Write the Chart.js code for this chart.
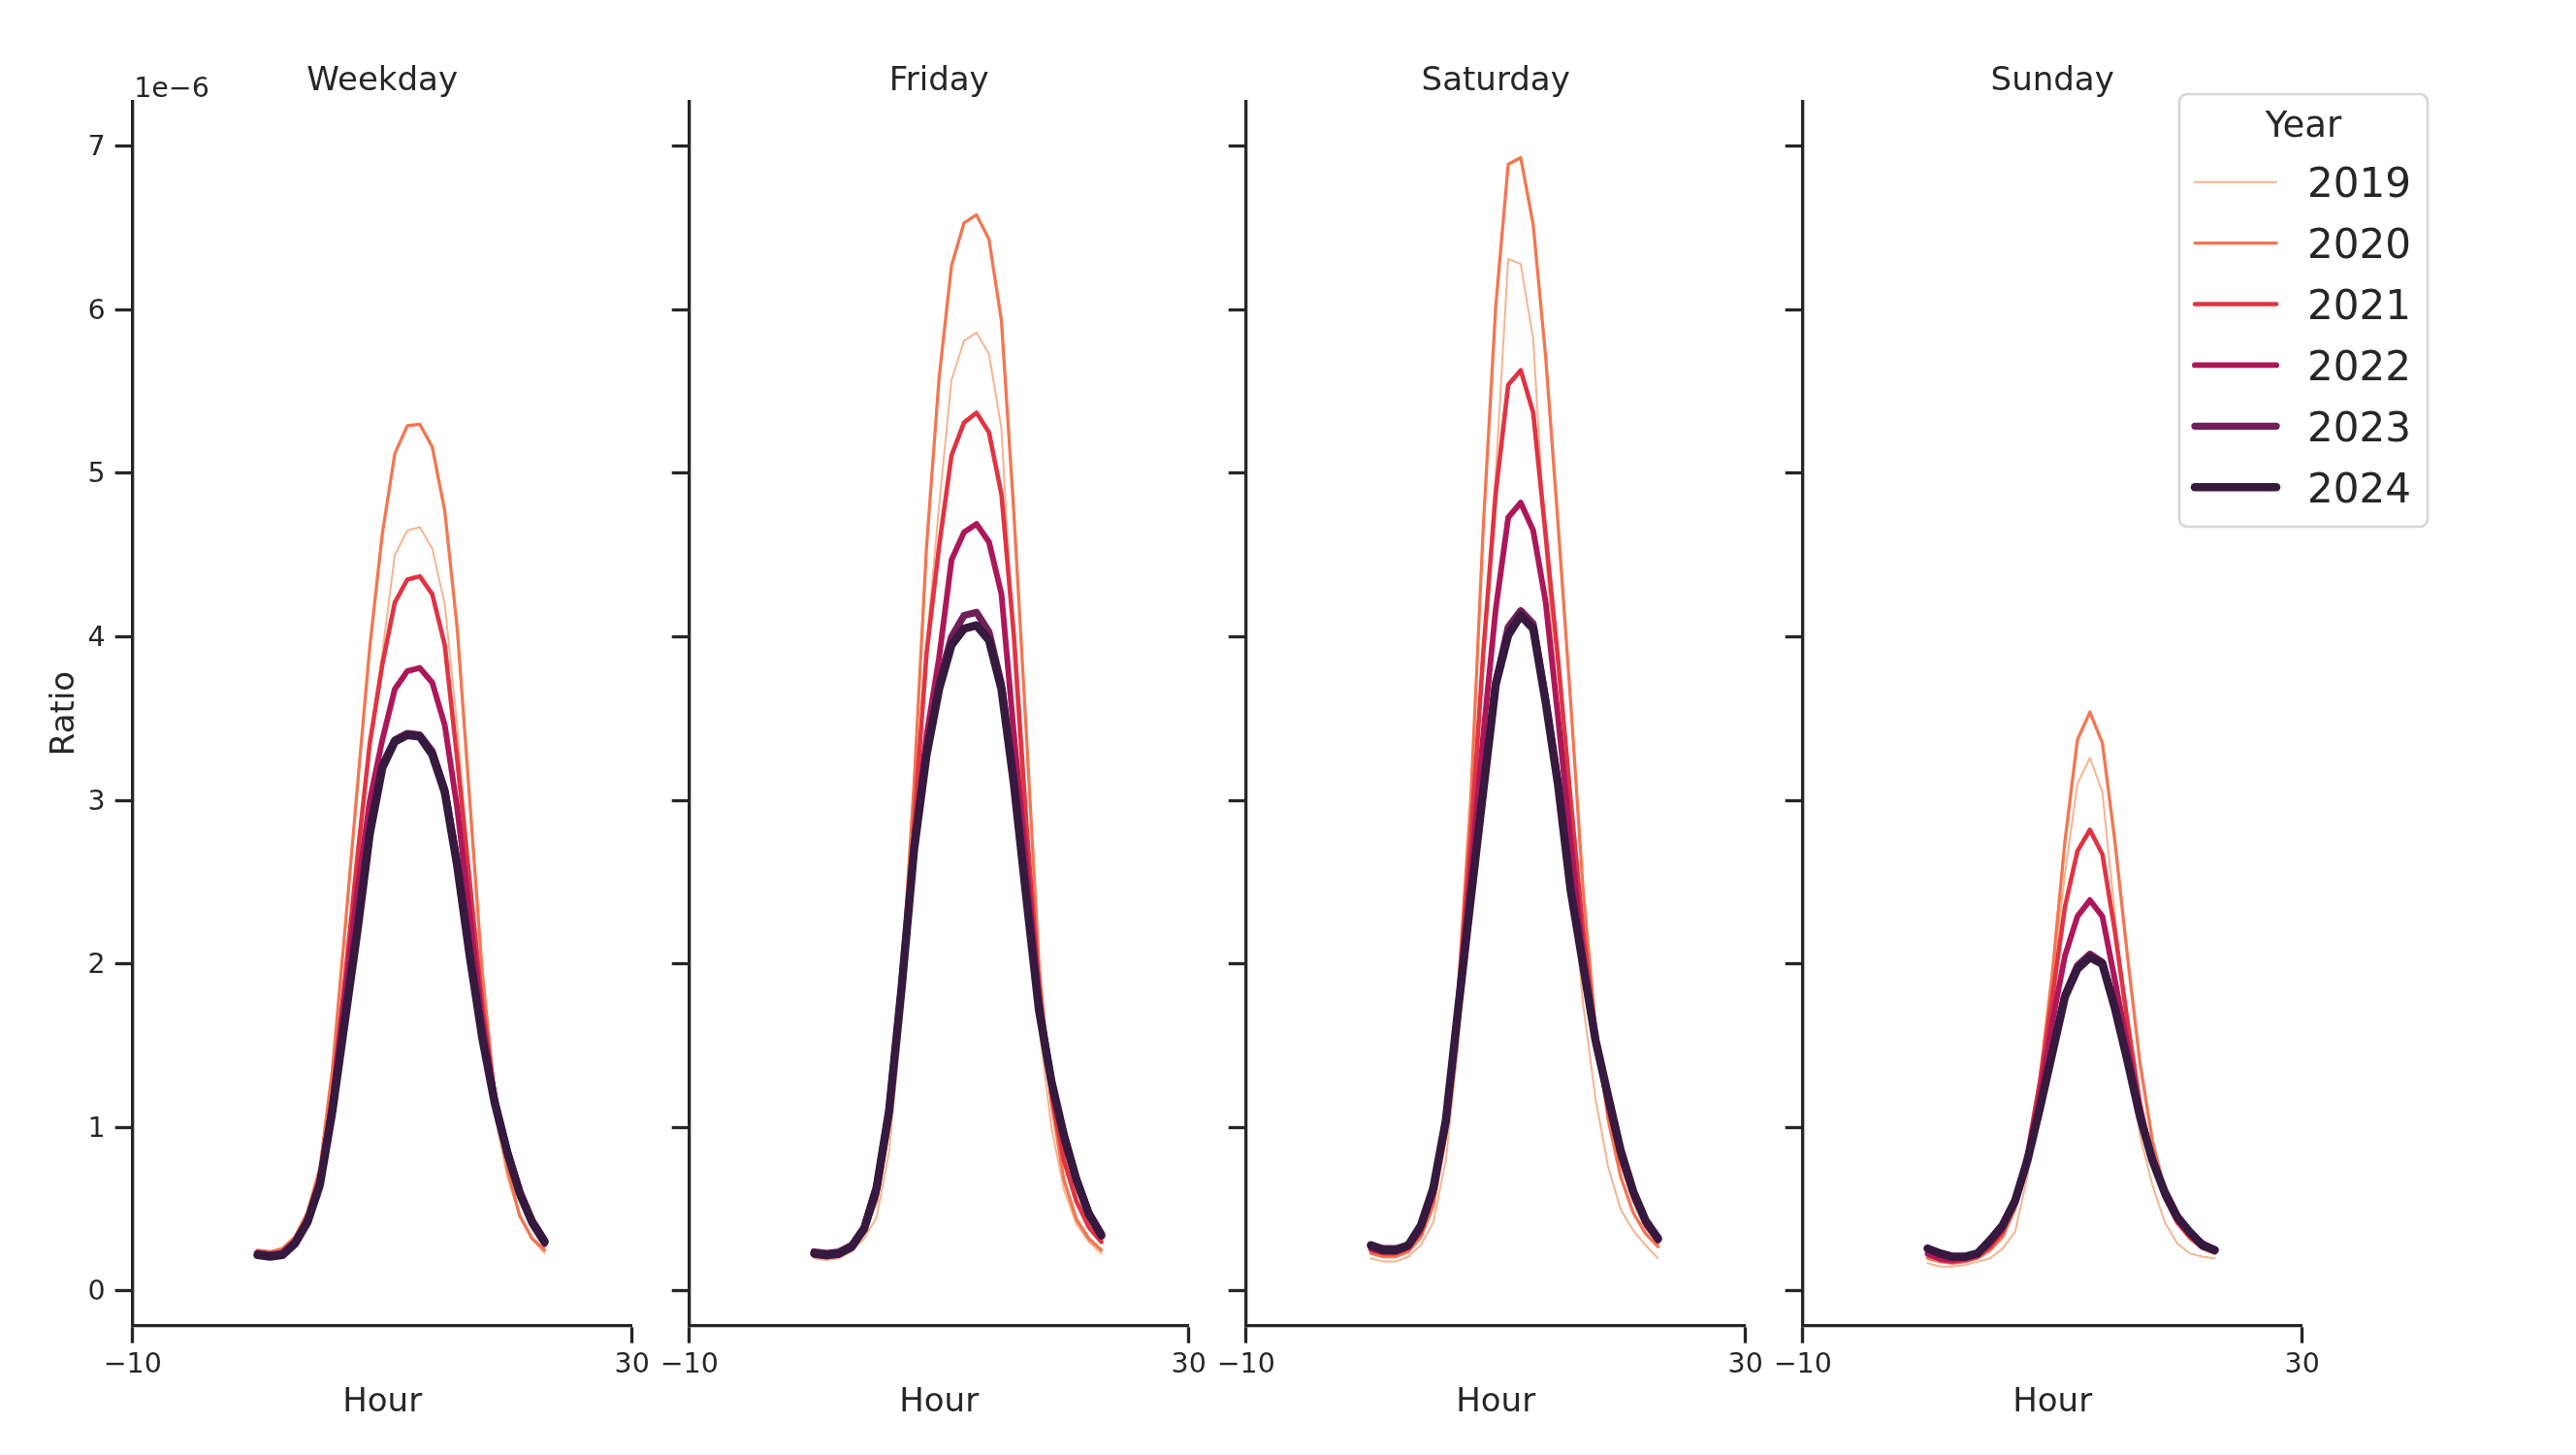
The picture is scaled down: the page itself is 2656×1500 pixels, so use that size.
<!DOCTYPE html>
<html>
<head>
<meta charset="utf-8">
<title>Ratio by hour</title>
<script src="https://cdn.jsdelivr.net/npm/chart.js@4.4.1/dist/chart.umd.min.js"></script>
<style>
    body { margin: 0; background: #ffffff; }
    #wrap { position: relative; width: 2656px; height: 1500px; }
    #wrap canvas { position: absolute; left: 0; top: 0; }
</style>
</head>
<body>
<div id="wrap">
    <canvas id="panel0" width="2656" height="1500"></canvas>
    <canvas id="panel1" width="2656" height="1500"></canvas>
    <canvas id="panel2" width="2656" height="1500"></canvas>
    <canvas id="panel3" width="2656" height="1500"></canvas>
</div>
<script>
// Veriler (birim: 1e-6)
const hours = [0, 1, 2, 3, 4, 5, 6, 7, 8, 9, 10, 11, 12, 13, 14, 15, 16, 17, 18, 19, 20, 21, 22, 23];
const years = ['2019', '2020', '2021', '2022', '2023', '2024'];
const panelTitles = ['Weekday', 'Friday', 'Saturday', 'Sunday'];
const xTicks = [-10, 30];
const yTicks = [0, 1, 2, 3, 4, 5, 6, 7];

// her satır bir yıl: 2019 ... 2024
const weekdayRatios = [
    [0.24, 0.23, 0.24, 0.30, 0.40, 0.58, 1.02, 1.80, 2.70, 3.35, 3.90, 4.50, 4.65, 4.67, 4.54, 4.20, 3.45, 2.55, 1.70, 1.08, 0.70, 0.46, 0.32, 0.23],
    [0.25, 0.24, 0.26, 0.33, 0.48, 0.75, 1.35, 2.20, 3.08, 3.94, 4.63, 5.12, 5.29, 5.30, 5.16, 4.77, 4.05, 3.00, 1.95, 1.20, 0.75, 0.46, 0.32, 0.25],
    [0.23, 0.22, 0.24, 0.31, 0.45, 0.70, 1.20, 1.90, 2.65, 3.35, 3.83, 4.21, 4.35, 4.37, 4.26, 3.95, 3.25, 2.50, 1.75, 1.20, 0.83, 0.57, 0.40, 0.28],
    [0.22, 0.21, 0.23, 0.30, 0.44, 0.68, 1.15, 1.80, 2.45, 3.00, 3.37, 3.68, 3.79, 3.81, 3.72, 3.46, 2.95, 2.30, 1.65, 1.17, 0.84, 0.59, 0.41, 0.29],
    [0.23, 0.22, 0.23, 0.30, 0.43, 0.66, 1.12, 1.70, 2.25, 2.84, 3.22, 3.37, 3.41, 3.40, 3.30, 3.07, 2.62, 2.07, 1.57, 1.17, 0.86, 0.61, 0.43, 0.31],
    [0.22, 0.21, 0.22, 0.29, 0.42, 0.65, 1.10, 1.65, 2.20, 2.80, 3.20, 3.36, 3.40, 3.39, 3.28, 3.05, 2.60, 2.05, 1.55, 1.15, 0.85, 0.60, 0.42, 0.30]
];
const fridayRatios = [
    [0.20, 0.19, 0.20, 0.24, 0.32, 0.45, 0.85, 1.65, 2.70, 3.95, 4.80, 5.57, 5.81, 5.86, 5.73, 5.27, 3.90, 2.60, 1.62, 1.00, 0.62, 0.41, 0.30, 0.23],
    [0.22, 0.21, 0.22, 0.27, 0.36, 0.55, 1.00, 1.90, 3.10, 4.55, 5.58, 6.27, 6.53, 6.58, 6.43, 5.93, 4.75, 3.40, 2.00, 1.15, 0.68, 0.44, 0.32, 0.25],
    [0.22, 0.21, 0.22, 0.27, 0.37, 0.58, 1.05, 1.85, 2.85, 3.90, 4.55, 5.11, 5.31, 5.37, 5.25, 4.87, 4.00, 2.85, 1.85, 1.20, 0.80, 0.55, 0.39, 0.30],
    [0.22, 0.21, 0.22, 0.27, 0.37, 0.60, 1.07, 1.83, 2.75, 3.40, 3.87, 4.47, 4.64, 4.69, 4.58, 4.26, 3.40, 2.60, 1.80, 1.28, 0.92, 0.66, 0.46, 0.33],
    [0.24, 0.23, 0.24, 0.28, 0.39, 0.64, 1.11, 1.87, 2.72, 3.30, 3.72, 4.00, 4.13, 4.15, 4.03, 3.71, 3.12, 2.42, 1.74, 1.29, 0.96, 0.69, 0.48, 0.35],
    [0.23, 0.22, 0.23, 0.27, 0.38, 0.63, 1.10, 1.85, 2.70, 3.28, 3.68, 3.95, 4.05, 4.07, 3.98, 3.68, 3.10, 2.40, 1.72, 1.28, 0.95, 0.68, 0.47, 0.34]
];
const saturdayRatios = [
    [0.20, 0.18, 0.18, 0.21, 0.28, 0.42, 0.80, 1.50, 2.60, 3.90, 5.00, 6.31, 6.28, 5.82, 4.52, 3.55, 2.60, 1.75, 1.17, 0.76, 0.50, 0.37, 0.28, 0.20],
    [0.23, 0.21, 0.21, 0.24, 0.33, 0.52, 0.95, 1.85, 3.00, 4.67, 6.02, 6.89, 6.93, 6.52, 5.71, 4.68, 3.60, 2.45, 1.60, 1.05, 0.70, 0.48, 0.35, 0.27],
    [0.25, 0.23, 0.23, 0.26, 0.36, 0.58, 1.00, 1.80, 2.75, 3.90, 4.88, 5.54, 5.63, 5.37, 4.62, 3.85, 3.00, 2.20, 1.55, 1.12, 0.80, 0.57, 0.40, 0.30],
    [0.26, 0.24, 0.24, 0.27, 0.38, 0.60, 1.02, 1.75, 2.55, 3.40, 4.17, 4.73, 4.82, 4.65, 4.21, 3.50, 2.75, 2.05, 1.52, 1.15, 0.84, 0.60, 0.42, 0.31],
    [0.28, 0.26, 0.26, 0.28, 0.40, 0.63, 1.04, 1.73, 2.40, 3.06, 3.72, 4.06, 4.16, 4.08, 3.62, 3.10, 2.46, 1.99, 1.53, 1.19, 0.86, 0.61, 0.43, 0.32],
    [0.28, 0.25, 0.25, 0.28, 0.40, 0.63, 1.04, 1.73, 2.40, 3.06, 3.71, 4.01, 4.13, 4.05, 3.60, 3.09, 2.45, 1.99, 1.53, 1.19, 0.86, 0.61, 0.43, 0.32]
];
const sundayRatios = [
    [0.17, 0.15, 0.15, 0.16, 0.18, 0.20, 0.26, 0.36, 0.70, 1.25, 1.90, 2.55, 3.10, 3.26, 3.05, 2.30, 1.55, 0.95, 0.65, 0.42, 0.29, 0.23, 0.21, 0.20],
    [0.20, 0.18, 0.17, 0.18, 0.20, 0.25, 0.33, 0.50, 0.85, 1.30, 1.95, 2.75, 3.37, 3.54, 3.35, 2.75, 2.05, 1.40, 0.92, 0.62, 0.42, 0.32, 0.26, 0.23],
    [0.22, 0.19, 0.18, 0.19, 0.21, 0.27, 0.36, 0.55, 0.85, 1.28, 1.80, 2.35, 2.69, 2.82, 2.67, 2.20, 1.65, 1.15, 0.80, 0.57, 0.42, 0.33, 0.27, 0.24],
    [0.23, 0.20, 0.19, 0.20, 0.22, 0.29, 0.38, 0.55, 0.82, 1.20, 1.65, 2.05, 2.29, 2.39, 2.29, 1.90, 1.50, 1.10, 0.80, 0.59, 0.44, 0.35, 0.28, 0.25],
    [0.26, 0.23, 0.21, 0.21, 0.23, 0.31, 0.40, 0.55, 0.80, 1.12, 1.47, 1.81, 1.99, 2.06, 2.01, 1.74, 1.42, 1.08, 0.81, 0.61, 0.46, 0.36, 0.29, 0.25],
    [0.26, 0.23, 0.21, 0.21, 0.23, 0.31, 0.40, 0.55, 0.80, 1.12, 1.46, 1.80, 1.97, 2.04, 2.00, 1.73, 1.41, 1.07, 0.80, 0.60, 0.45, 0.36, 0.28, 0.25]
];
const panelRatios = [weekdayRatios, fridayRatios, saturdayRatios, sundayRatios];

// Görünüm (rocket paleti, yıla göre kalınlık)
const yearColors = ['#f6b48f', '#f37651', '#e13342', '#ad1759', '#701f57', '#35193e'];
const yearWidths = [2.0, 3.3, 4.6, 5.9, 7.2, 8.5];
const ink = '#262626';
const FONT = '"DejaVu Sans", "Liberation Sans", sans-serif';

// yerleşim (piksel)
const AREA_LEFT = 136.7, AREA_WIDTH = 515, PANEL_STEP = 574;
const AREA_TOP = 104.3, AREA_BOTTOM = 1366.7;
const CANVAS_W = 2656, CANVAS_H = 1500;

function formatTick(v) {
    return v < 0 ? '\u2212' + Math.abs(v) : String(v);
}

// başlık, ofset yazısı ve lejant
const panelText = {
    id: 'panelText',
    afterDraw(chart, args, opts) {
        const { ctx, chartArea } = chart;
        ctx.save();
        ctx.fillStyle = ink;
        ctx.textBaseline = 'alphabetic';
        ctx.font = `34px ${FONT}`;
        ctx.textAlign = 'center';
        ctx.fillText(opts.title, (chartArea.left + chartArea.right) / 2, 92.5);

        if (opts.offsetText) {
            ctx.font = `28.5px ${FONT}`;
            ctx.textAlign = 'left';
            ctx.fillText('1e\u22126', chartArea.left + 1.5, 100);
        }
        if (opts.legend) {
            drawLegend(ctx);
        }
        ctx.restore();
    }
};

function drawLegend(ctx) {
    const x = 2247, y = 97, w = 256, h = 446;
    ctx.beginPath();
    ctx.roundRect(x, y, w, h, 8);
    ctx.fillStyle = 'rgba(255,255,255,0.8)';
    ctx.fill();
    ctx.lineWidth = 2.7;
    ctx.strokeStyle = '#d6d6d6';
    ctx.stroke();

    ctx.fillStyle = ink;
    ctx.font = `37px ${FONT}`;
    ctx.textAlign = 'center';
    ctx.fillText('Year', 2375, 140.5);

    ctx.font = `42px ${FONT}`;
    ctx.textAlign = 'left';
    years.forEach((year, k) => {
        const cy = 187.7 + 62.9 * k;
        ctx.beginPath();
        ctx.moveTo(2263, cy);
        ctx.lineTo(2347, cy);
        ctx.lineCap = 'round';
        ctx.lineWidth = yearWidths[k];
        ctx.strokeStyle = yearColors[k];
        ctx.stroke();
        ctx.fillStyle = ink;
        ctx.fillText(year, 2379, cy + 15.3);
    });
}

function buildPanel(i) {
    const first = i === 0;
    const yWidth = first ? 116.7 : 60;
    const left = AREA_LEFT + PANEL_STEP * i;
    const right = left + AREA_WIDTH;

    const datasets = years.map((year, k) => ({
        label: year,
        data: hours.map((h, j) => ({ x: h, y: panelRatios[i][k][j] })),
        borderColor: yearColors[k],
        borderWidth: yearWidths[k],
        borderCapStyle: 'round',
        borderJoinStyle: 'round',
        pointRadius: 0,
        tension: 0,
        fill: false,
        order: years.length - 1 - k
    }));

    const ctx = document.getElementById('panel' + i).getContext('2d');
    return new Chart(ctx, {
        type: 'line',
        data: { datasets: datasets },
        options: {
            responsive: false,
            animation: false,
            devicePixelRatio: 1,
            layout: {
                padding: {
                    left: left - yWidth,
                    right: CANVAS_W - right,
                    top: AREA_TOP,
                    bottom: 0
                }
            },
            plugins: {
                legend: { display: false },
                tooltip: { enabled: false },
                panelText: {
                    title: panelTitles[i],
                    offsetText: first,
                    legend: i === panelTitles.length - 1
                }
            },
            scales: {
                x: {
                    type: 'linear',
                    min: -10,
                    max: 30,
                    afterBuildTicks: s => { s.ticks = xTicks.map(v => ({ value: v })); },
                    afterFit: s => { s.height = CANVAS_H - AREA_BOTTOM; },
                    grid: {
                        display: true,
                        drawOnChartArea: false,
                        drawTicks: true,
                        tickLength: 18,
                        tickWidth: 3.3,
                        tickColor: ink
                    },
                    border: { display: true, color: ink, width: 3.3 },
                    ticks: {
                        color: ink,
                        padding: 6,
                        maxRotation: 0,
                        font: { family: FONT, size: 28.5 },
                        callback: v => formatTick(v)
                    },
                    title: {
                        display: true,
                        text: 'Hour',
                        color: ink,
                        font: { family: FONT, size: 34 },
                        padding: { top: 0, bottom: 33 }
                    }
                },
                y: {
                    type: 'linear',
                    min: -0.212,
                    max: 7.275,
                    afterBuildTicks: s => { s.ticks = yTicks.map(v => ({ value: v })); },
                    afterFit: s => { s.width = yWidth; },
                    grid: {
                        display: true,
                        drawOnChartArea: false,
                        drawTicks: true,
                        tickLength: 18,
                        tickWidth: 3.3,
                        tickColor: ink
                    },
                    border: { display: true, color: ink, width: 3.3 },
                    ticks: {
                        display: first,
                        color: ink,
                        padding: 10,
                        labelOffset: 2,
                        font: { family: FONT, size: 28.5 },
                        callback: v => formatTick(v)
                    },
                    title: {
                        display: first,
                        text: 'Ratio',
                        color: ink,
                        font: { family: FONT, size: 34 },
                        padding: { top: 27, bottom: 0 }
                    }
                }
            }
        },
        plugins: [panelText]
    });
}

panelTitles.forEach((t, i) => buildPanel(i));
</script>
</body>
</html>
